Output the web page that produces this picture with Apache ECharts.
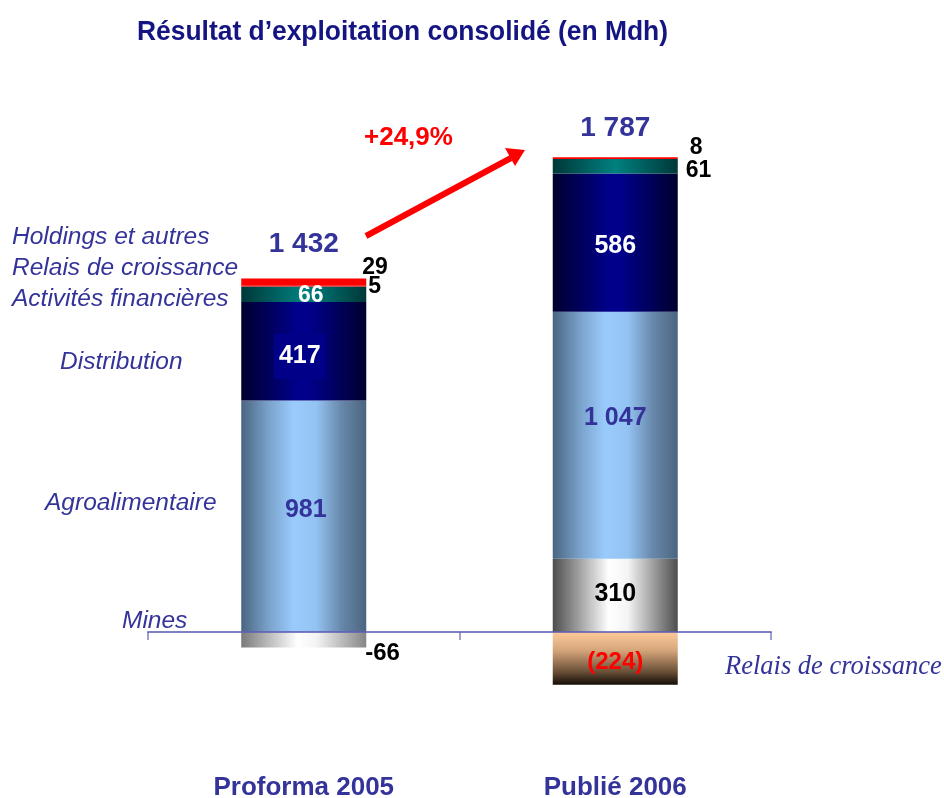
<!DOCTYPE html>
<html>
<head>
<meta charset="utf-8">
<script src="https://cdn.jsdelivr.net/npm/echarts@6/dist/echarts.min.js"></script>
<style>
html,body{margin:0;padding:0;background:#fff;}
#chart{width:944px;height:798px;}
</style>
</head>
<body>
<div id="chart"></div>
<script>
// ---- Data ----
const categories = ['Proforma 2005', 'Publié 2006'];
const mines = [-66, 310];
const agroalimentaire = [981, 1047];
const distribution = [417, 586];
const activitesFinancieres = [66, 61];
const relaisCroissance = [5, -224];
const holdings = [29, 8];
const totals = [1432, 1787];
const growthText = '+24,9%';
const chartTitle = 'Résultat d\u2019exploitation consolidé (en Mdh)';
const segmentNames = ['Holdings et autres', 'Relais de croissance', 'Activités financières', 'Distribution', 'Agroalimentaire', 'Mines'];

// ---- Helpers ----
const SANS = '"Liberation Sans", Arial, sans-serif';
const SERIF = '"Liberation Serif", "Times New Roman", serif';
const BLUE = '#333399';
function fr(v) { return String(Math.abs(v)).replace(/\B(?=(\d{3})+(?!\d))/g, ' '); }
function hGrad(stops) {
  return { type: 'linear', x: 0, y: 0, x2: 1, y2: 0,
    colorStops: stops.map(s => ({ offset: s[0], color: s[1] })) };
}
function vGrad(stops) {
  return { type: 'linear', x: 0, y: 0, x2: 0, y2: 1,
    colorStops: stops.map(s => ({ offset: s[0], color: s[1] })) };
}
const gradAgro = hGrad([[0,'#4a6580'],[0.22,'#7aa2cb'],[0.42,'#9acbfd'],[0.6,'#93c3f2'],[0.8,'#6888aa'],[1,'#4a6580']]);
const gradDist = hGrad([[0,'#00002e'],[0.45,'#00008c'],[0.55,'#00008a'],[1,'#00002e']]);
const gradAF = hGrad([[0,'#003838'],[0.5,'#008080'],[1,'#003838']]);
const gradMines05 = hGrad([[0,'#7a7a7a'],[0.45,'#ffffff'],[0.6,'#f4f4f4'],[1,'#858585']]);
const gradMines06 = hGrad([[0,'#4d4d4d'],[0.45,'#ffffff'],[0.6,'#f4f4f4'],[1,'#4d4d4d']]);
const gradRelais = vGrad([[0,'#fdca9a'],[0.35,'#d5a57a'],[0.75,'#6a5038'],[1,'#140c05']]);

const lblBold = (color, size) => ({ show: true, color: color, fontFamily: SANS, fontWeight: 'bold', fontSize: size });

function item(v, color, label) { return { value: v, itemStyle: { color: color }, label: label }; }

const posSum = categories.map((c, i) =>
  [mines, agroalimentaire, distribution, activitesFinancieres, relaisCroissance, holdings]
    .reduce((s, arr) => s + (arr[i] > 0 ? arr[i] : 0), 0));
const totalDistance = [20, 15];

const italicLabel = (text, x, y) => ({ type: 'text', x: x, y: y,
  style: { text: text, fill: BLUE, font: 'italic 24.5px ' + SANS, textVerticalAlign: 'middle' } });

const option = {
  animation: false,
  backgroundColor: '#ffffff',
  grid: { left: 148, right: 173, top: 65.6, bottom: 71.6, containLabel: false, outerBoundsMode: 'none' },
  xAxis: {
    type: 'category',
    data: categories,
    z: 10,
    axisLine: { onZero: true, lineStyle: { color: 'rgba(95,95,180,0.8)', width: 2 } },
    axisTick: { show: true, length: 8, lineStyle: { color: 'rgba(95,95,180,0.8)', width: 1.5 } },
    axisLabel: { margin: 48, color: BLUE, fontFamily: SANS, fontWeight: 'bold', fontSize: 26 },
    splitLine: { show: false }
  },
  yAxis: { type: 'value', min: -400, max: 2400, show: false, splitLine: { show: false } },
  series: [
    { name: 'Mines', type: 'bar', stack: 'r', barWidth: 125,
      data: [
        item(mines[0], gradMines05, Object.assign(lblBold('#000', 24), { position: 'right', offset: [-6, 14], formatter: '-' + fr(mines[0]) })),
        item(mines[1], gradMines06, Object.assign(lblBold('#000', 25), { position: 'inside', offset: [0, -1], formatter: fr(mines[1]) }))
      ] },
    { name: 'Agroalimentaire', type: 'bar', stack: 'r', barWidth: 125,
      data: [
        item(agroalimentaire[0], gradAgro, Object.assign(lblBold(BLUE, 25), { position: 'inside', offset: [2, -6], formatter: fr(agroalimentaire[0]) })),
        item(agroalimentaire[1], gradAgro, Object.assign(lblBold(BLUE, 25), { position: 'inside', offset: [0, -17], formatter: fr(agroalimentaire[1]) }))
      ] },
    { name: 'Distribution', type: 'bar', stack: 'r', barWidth: 125,
      data: [
        item(distribution[0], gradDist, Object.assign(lblBold('#fff', 25), { position: 'inside', offset: [-4, 5], backgroundColor: '#000088', padding: [11, 5, 9, 5], formatter: fr(distribution[0]) })),
        item(distribution[1], gradDist, Object.assign(lblBold('#fff', 25), { position: 'inside', offset: [0, 4], formatter: fr(distribution[1]) }))
      ] },
    { name: 'Activités financières', type: 'bar', stack: 'r', barWidth: 125,
      data: [
        item(activitesFinancieres[0], gradAF, Object.assign(lblBold('#fff', 23), { position: 'inside', offset: [7, 1], formatter: fr(activitesFinancieres[0]) })),
        item(activitesFinancieres[1], gradAF, Object.assign(lblBold('#000', 23), { position: 'right', offset: [3, 4], formatter: fr(activitesFinancieres[1]) }))
      ] },
    { name: 'Relais de croissance', type: 'bar', stack: 'r', barWidth: 125,
      data: [
        item(relaisCroissance[0], '#ff0000', Object.assign(lblBold('#000', 23), { position: 'right', offset: [-3, 1], formatter: fr(relaisCroissance[0]) })),
        item(relaisCroissance[1], gradRelais, Object.assign(lblBold('#ff0000', 24), { position: 'inside', offset: [0, 4], formatter: '(' + fr(relaisCroissance[1]) + ')' }))
      ] },
    { name: 'Holdings et autres', type: 'bar', stack: 'r', barWidth: 125,
      data: [
        item(holdings[0], '#ff0000', Object.assign(lblBold('#000', 23), { position: 'right', offset: [-9, -14], formatter: fr(holdings[0]) })),
        item(holdings[1], '#ff0000', Object.assign(lblBold('#000', 23), { position: 'right', offset: [7, -10], formatter: fr(holdings[1]) }))
      ] },
    { name: 'Total', type: 'scatter', symbolSize: 0, silent: true, z: 20,
      itemStyle: { opacity: 1 },
      data: categories.map((c, i) => ({ value: [i, posSum[i]], label: { distance: totalDistance[i] } })),
      label: { show: true, position: 'top', color: BLUE, fontFamily: SANS, fontWeight: 'bold', fontSize: 28,
        formatter: p => fr(totals[p.dataIndex]) } }
  ],
  graphic: [
    { type: 'text', x: 137, y: 32, scaleX: 0.943, style: { text: chartTitle, fill: '#141482', font: 'bold 28px ' + SANS, textVerticalAlign: 'middle' } },
    italicLabel(segmentNames[0], 12, 237),
    italicLabel(segmentNames[1], 12, 268),
    italicLabel(segmentNames[2], 12, 299),
    italicLabel(segmentNames[3], 60, 362),
    italicLabel(segmentNames[4], 45, 503),
    italicLabel(segmentNames[5], 122, 621),
    { type: 'text', x: 725, y: 667, style: { text: segmentNames[1], fill: BLUE, font: 'italic 26.5px ' + SERIF, textVerticalAlign: 'middle' } },
    { type: 'text', x: 364, y: 138, style: { text: growthText, fill: '#ff0000', font: 'bold 26px ' + SANS, textVerticalAlign: 'middle' } },
    { type: 'line', shape: { x1: 366, y1: 236, x2: 511, y2: 158 }, style: { stroke: '#ff0000', lineWidth: 6 } },
    { type: 'polygon', shape: { points: [[525, 150], [515, 166], [505, 148]] }, style: { fill: '#ff0000' } }
  ]
};

const chart = echarts.init(document.getElementById('chart'), null, { renderer: 'canvas' });
chart.setOption(option);
</script>
</body>
</html>
